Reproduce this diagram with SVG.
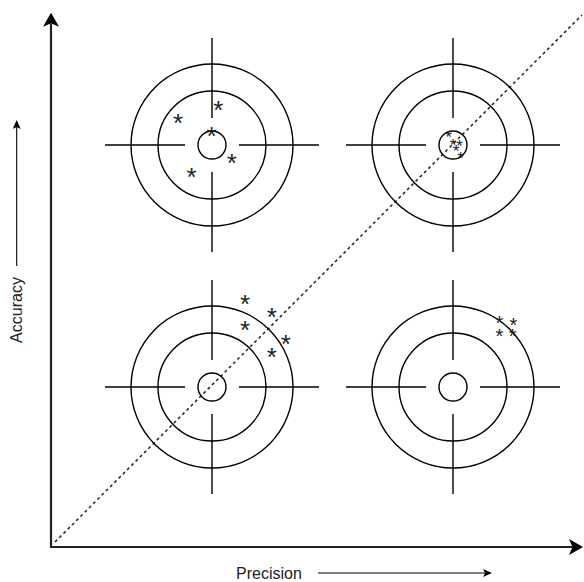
<svg xmlns="http://www.w3.org/2000/svg" width="584" height="582" viewBox="0 0 584 582">
<style>
.ring{fill:none;stroke:#000;stroke-width:1.4}
.cross{stroke:#000;stroke-width:1.4}
.star{font-family:"Liberation Sans",Arial,sans-serif;fill:#222;text-anchor:middle}
.s26{font-size:26px}
.s20{font-size:20px}
.s17{font-size:17px}
.lbl{font-family:"Liberation Sans",Arial,sans-serif;font-size:16px;fill:#222}
.axis{fill:none;stroke:#222;stroke-width:2.2}
.small{fill:none;stroke:#000;stroke-width:1.1}
.dash{fill:none;stroke:#222;stroke-width:1.5;stroke-dasharray:3 3}
</style>
<defs>
<marker id="big" viewBox="0 0 14 16" refX="3.5" refY="8" markerWidth="14" markerHeight="16" markerUnits="userSpaceOnUse" orient="auto-start-reverse">
<path d="M0,0 L14,8 L0,16 L3.5,8 Z" fill="#000"/>
</marker>
<marker id="sm" viewBox="0 0 9 8" refX="2" refY="4" markerWidth="9" markerHeight="8" markerUnits="userSpaceOnUse" orient="auto">
<path d="M0,0 L9,4 L0,8 L2,4 Z" fill="#000"/>
</marker>
<g id="target">
<circle class="ring" cx="0" cy="0" r="81"/>
<circle class="ring" cx="0" cy="0" r="54"/>
<circle class="ring" cx="0" cy="0" r="14"/>
<path class="cross" d="M-107,0 H-27 M27,0 H107 M0,-107 V-27 M0,27 V107"/>
</g>
</defs>
<g id="connectors">
<path class="dash" d="M55,542 L582,15"/>
<path class="axis" d="M51,23.2 L51,547 L572.5,547" marker-start="url(#big)" marker-end="url(#big)"/>
<path class="small" d="M16.7,266 L16.7,127" marker-end="url(#sm)"/>
<path class="small" d="M318,573 L485,573" marker-end="url(#sm)"/>
</g>
<g id="target-tl">
<use href="#target" x="212" y="145"/>
<text class="star s26" x="218.3" y="118.6">*</text>
<text class="star s26" x="178" y="131.6">*</text>
<text class="star s26" x="211.5" y="145">*</text>
<text class="star s26" x="231.7" y="172.2">*</text>
<text class="star s26" x="191.5" y="185.6">*</text>
</g>
<g id="target-tr">
<use href="#target" x="453" y="145"/>
<text class="star s17" x="448.5" y="142.5">*</text>
<text class="star s17" x="453" y="150.5">*</text>
<text class="star s17" x="459.5" y="151.5">*</text>
<text class="star s17" x="456" y="157">*</text>
<text class="star s17" x="460.5" y="163.5">*</text>
</g>
<g id="target-br">
<use href="#target" x="453" y="387"/>
<text class="star s20" x="499.3" y="329.5">*</text>
<text class="star s20" x="513.3" y="332">*</text>
<text class="star s20" x="499.3" y="343">*</text>
<text class="star s20" x="512.7" y="343">*</text>
</g>
<g id="target-bl">
<use href="#target" x="212" y="387"/>
<text class="star s26" x="245" y="313">*</text>
<text class="star s26" x="271.7" y="326.3">*</text>
<text class="star s26" x="245" y="339">*</text>
<text class="star s26" x="285.7" y="353">*</text>
<text class="star s26" x="271.7" y="366.3">*</text>
</g>
<g id="labels">
<text class="lbl" x="236" y="578.7">Precision</text>
<text class="lbl" transform="translate(22.4,310) rotate(-90)" text-anchor="middle">Accuracy</text>
</g>
</svg>
